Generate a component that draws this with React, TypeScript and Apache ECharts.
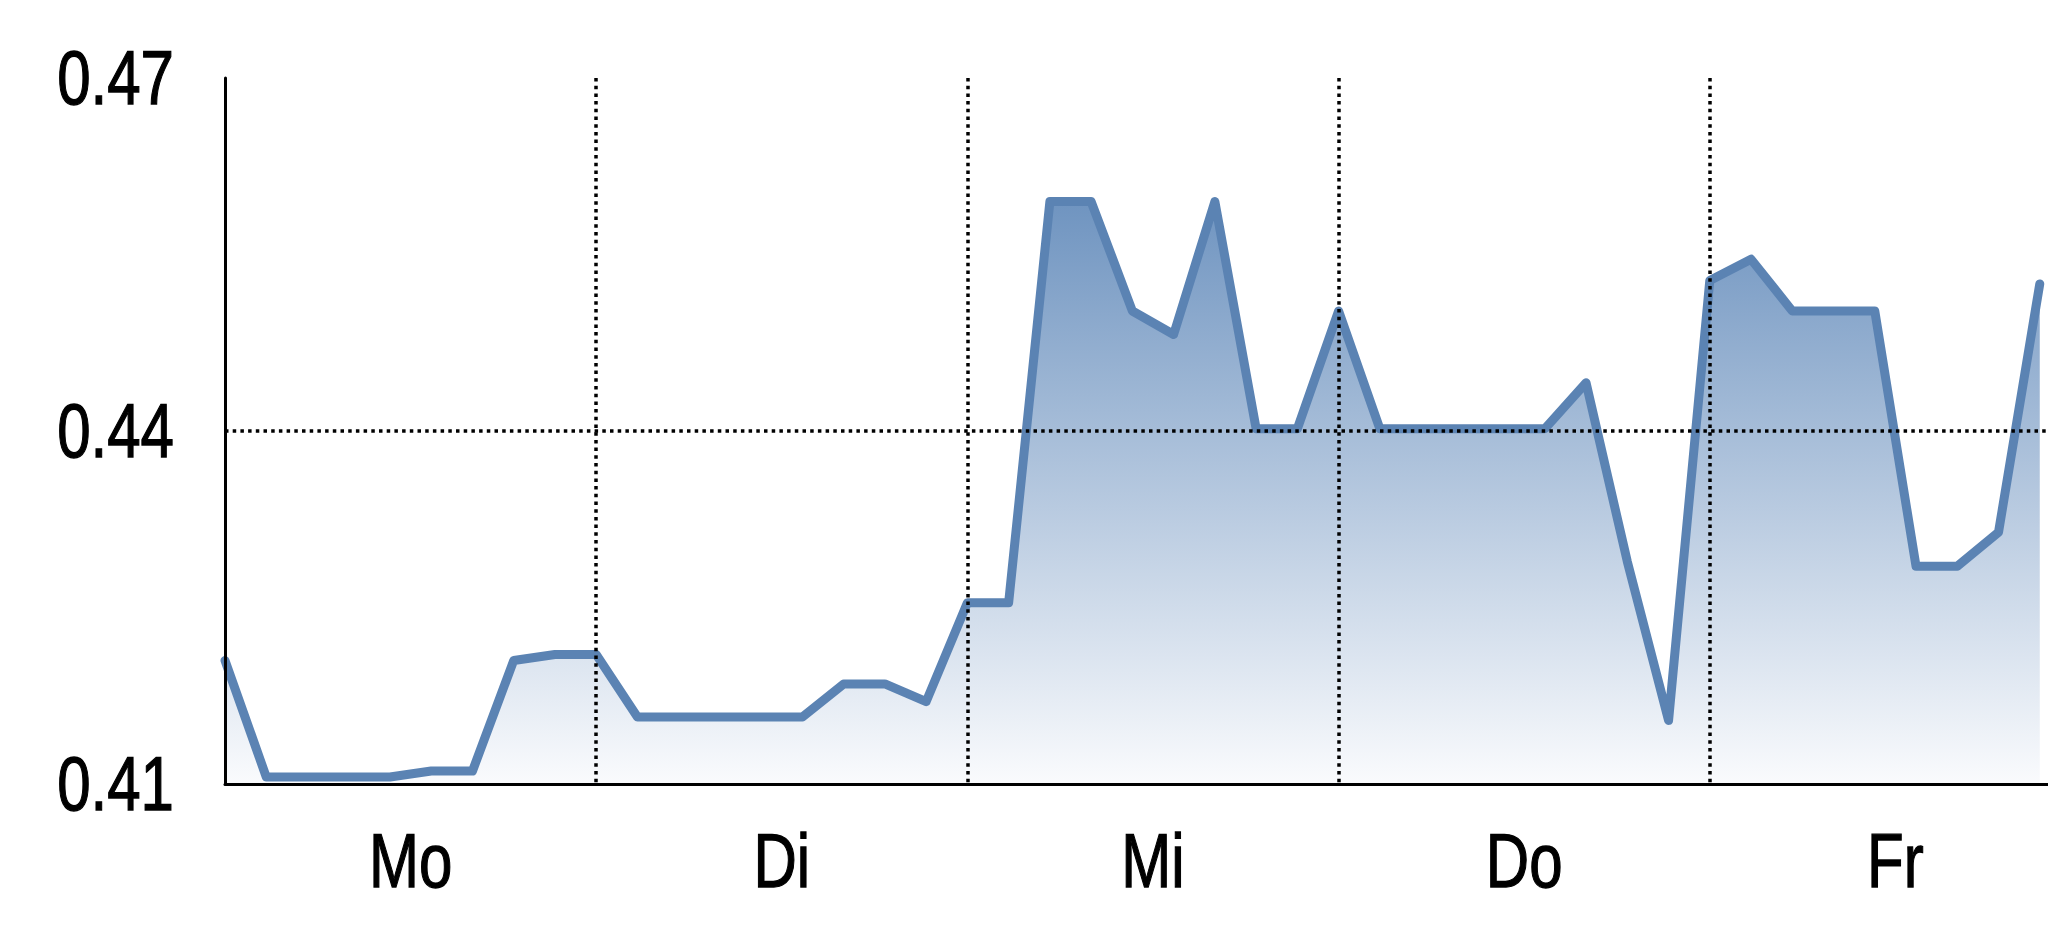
import React, { useEffect, useRef } from "react";
import * as echarts from "echarts";

const days: string[] = ["Mo", "Di", "Mi", "Do", "Fr"];
const pointsPerDay = 9;
const values: number[] = [
  0.4205, 0.4106, 0.4106, 0.4106, 0.4106, 0.4111, 0.4111, 0.4205, 0.421,
  0.421, 0.4157, 0.4157, 0.4157, 0.4157, 0.4157, 0.4185, 0.4185, 0.417,
  0.4254, 0.4254, 0.4595, 0.4595, 0.4502, 0.4482, 0.4595, 0.4402, 0.4402,
  0.4502, 0.4402, 0.4402, 0.4402, 0.4402, 0.4402, 0.4441, 0.4289, 0.4154,
  0.4528, 0.4546, 0.4502, 0.4502, 0.4502, 0.4285, 0.4285, 0.4314, 0.4525,
];
const yTicks: number[] = [0.41, 0.44, 0.47];
const yMin = 0.41;
const yMax = 0.47;
const yStep = 0.03;

const FONT_FAMILY = "'Liberation Sans', Arial, sans-serif";
const FONT_SIZE = 60;
const TEXT_SCALE_Y = 1.28;

export default function App() {
  const ref = useRef<HTMLDivElement>(null);
  useEffect(() => {
    if (!ref.current) return;
    const chart = echarts.init(ref.current, undefined, { renderer: "svg" });
    const clear = "rgba(0,0,0,0)";
    const dotted = { width: 3.5, type: [3.5, 4.2] as number[] };
    chart.setOption({
      animation: false,
      backgroundColor: "#fff",
      grid: { left: 225, right: 0, top: 78, bottom: 153 },
      xAxis: {
        type: "value",
        min: 0,
        max: days.length * pointsPerDay,
        interval: pointsPerDay,
        z: 5,
        axisLine: { show: true, lineStyle: { color: "#000", width: 3 } },
        axisTick: { show: false },
        axisLabel: { show: false },
        splitLine: {
          show: true,
          lineStyle: {
            ...dotted,
            color: [clear, "#000", "#000", "#000", "#000", clear],
          },
        },
      },
      yAxis: {
        type: "value",
        min: yMin,
        max: yMax,
        interval: yStep,
        z: 6,
        axisLine: { show: true, lineStyle: { color: "#000", width: 3 } },
        axisTick: { show: false },
        axisLabel: { show: false },
        splitLine: {
          show: true,
          lineStyle: { ...dotted, color: [clear, "#000", clear] },
        },
      },
      series: [
        {
          type: "line",
          data: values.map((v, i) => [i, v]),
          showSymbol: false,
          symbol: "none",
          lineStyle: { color: "#5b83b3", width: 9, join: "round", cap: "round" },
          areaStyle: {
            color: new echarts.graphic.LinearGradient(0, 0, 0, 1, [
              { offset: 0, color: "#6f94c0" },
              { offset: 1, color: "#fafbfd" },
            ]),
            opacity: 1,
          },
        },
      ],
    });

    const axisLeft = chart.convertToPixel({ xAxisIndex: 0 }, 0) as number;
    const axisBottom = chart.convertToPixel({ yAxisIndex: 0 }, yMin) as number;
    const textStyle = (text: string, align: string) => ({
      text,
      fill: "#000",
      stroke: "#000",
      lineWidth: 1,
      fontSize: FONT_SIZE,
      fontFamily: FONT_FAMILY,
      align,
      verticalAlign: "middle",
    });
    const yLabels = yTicks.map((v) => ({
      type: "text",
      x: axisLeft - 51,
      y: chart.convertToPixel({ yAxisIndex: 0 }, v) as number,
      scaleY: TEXT_SCALE_Y,
      z: 10,
      style: textStyle(v.toFixed(2), "right"),
    }));
    const xLabels = days.map((d, i) => ({
      type: "text",
      x: chart.convertToPixel({ xAxisIndex: 0 }, i * pointsPerDay + pointsPerDay / 2) as number,
      y: axisBottom + 77,
      scaleY: TEXT_SCALE_Y,
      z: 10,
      style: textStyle(d, "center"),
    }));
    chart.setOption({ graphic: [...yLabels, ...xLabels] });
    return () => chart.dispose();
  }, []);
  return (
    <div
      ref={ref}
      style={{ position: "fixed", left: 0, top: 0, width: 2081, height: 937 }}
    />
  );
}
